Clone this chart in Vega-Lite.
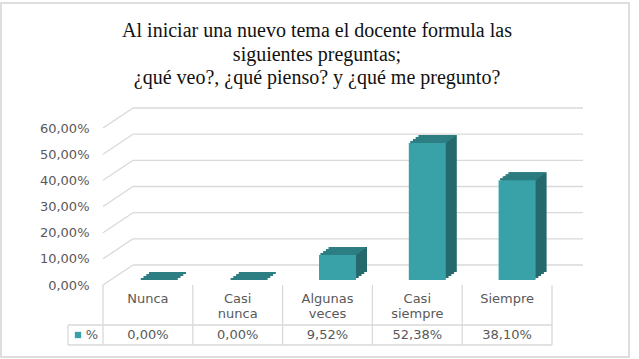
{
  "$schema": "https://vega.github.io/schema/vega-lite/v6.json",
  "width": 628,
  "height": 354,
  "autosize": {"type": "none"},
  "padding": {"left": 1, "top": 3, "right": 10, "bottom": 2},
  "background": "white",
  "config": {
    "view": {"stroke": "#d4d4d4", "strokeWidth": 1.5},
    "locale": {"number": {"decimal": ",", "thousands": ".", "grouping": [3], "currency": ["", " €"]}},
    "font": "DejaVu Sans"
  },
  "title": {
    "text": ["Al iniciar  una nuevo tema el docente formula las", "siguientes preguntas;", "¿qué veo?, ¿qué pienso? y ¿qué me pregunto?"],
    "font": "Liberation Serif",
    "fontSize": 20,
    "fontWeight": "normal",
    "color": "#111111",
    "lineHeight": 23.5,
    "anchor": "middle",
    "frame": "group",
    "offset": -85,
    "dx": 2
  },
  "data": {"values": [
    {"cat": "Nunca", "p": 0},
    {"cat": "Casi nunca", "p": 0},
    {"cat": "Algunas veces", "p": 0.0952},
    {"cat": "Casi siempre", "p": 0.5238},
    {"cat": "Siempre", "p": 0.381}
  ]},
  "resolve": {"scale": {"y": "independent"}},
  "layer": [
    {
      "layer": [
        {
          "data": {"values": [{"g": 0}, {"g": 0.1}, {"g": 0.2}, {"g": 0.3}, {"g": 0.4}, {"g": 0.5}, {"g": 0.6}]},
          "mark": {"type": "rule", "color": "#d9d9d9", "strokeWidth": 1.3, "xOffset": 30, "x2Offset": 31, "yOffset": -20},
          "encoding": {
            "x": {"datum": "Nunca", "type": "nominal", "bandPosition": 0, "scale": {"domain": ["Nunca", "Casi nunca", "Algunas veces", "Casi siempre", "Siempre"], "range": [102, 551], "paddingInner": 0, "paddingOuter": 0}, "axis": null},
            "x2": {"datum": "Siempre", "bandPosition": 1},
            "y": {"field": "g", "type": "quantitative", "scale": {"domain": [0, 0.6], "range": [282, 125], "nice": false}, "axis": {"values": [0, 0.1, 0.2, 0.3, 0.4, 0.5, 0.6], "format": ".2%", "domain": false, "ticks": false, "grid": false, "offset": -88, "labelPadding": 0, "labelFont": "DejaVu Sans", "labelFontSize": 13, "labelColor": "#595959", "title": null}}
          }
        },
        {
          "data": {"values": [{"g": 0}, {"g": 0.1}, {"g": 0.2}, {"g": 0.3}, {"g": 0.4}, {"g": 0.5}, {"g": 0.6}]},
          "mark": {"type": "rule", "color": "#d9d9d9", "strokeWidth": 1.3, "x2Offset": 30, "y2Offset": -20},
          "encoding": {
            "x": {"datum": "Nunca", "type": "nominal", "bandPosition": 0},
            "x2": {"datum": "Nunca", "bandPosition": 0},
            "y": {"field": "g", "type": "quantitative"},
            "y2": {"field": "g"}
          }
        },
        {
          "mark": {"type": "bar", "width": 37, "color": "#25696d", "xOffset": 21, "yOffset": -13, "y2Offset": -13},
          "encoding": {"x": {"field": "cat", "type": "nominal", "sort": null}, "y": {"field": "p", "type": "quantitative"}, "y2": {"datum": 0}}
        },
        {
          "mark": {"type": "bar", "width": 37, "color": "#25696d", "xOffset": 18.25, "yOffset": -11, "y2Offset": -11},
          "encoding": {"x": {"field": "cat", "type": "nominal", "sort": null}, "y": {"field": "p", "type": "quantitative"}, "y2": {"datum": 0}}
        },
        {
          "mark": {"type": "bar", "width": 37, "color": "#25696d", "xOffset": 15.5, "yOffset": -9, "y2Offset": -9},
          "encoding": {"x": {"field": "cat", "type": "nominal", "sort": null}, "y": {"field": "p", "type": "quantitative"}, "y2": {"datum": 0}}
        },
        {
          "mark": {"type": "bar", "width": 37, "color": "#25696d", "xOffset": 12.75, "yOffset": -7, "y2Offset": -7},
          "encoding": {"x": {"field": "cat", "type": "nominal", "sort": null}, "y": {"field": "p", "type": "quantitative"}, "y2": {"datum": 0}}
        },
        {
          "mark": {"type": "bar", "width": 37, "color": "#2d7e83", "xOffset": 19.6, "yOffset": -13, "y2Offset": -11},
          "encoding": {"x": {"field": "cat", "type": "nominal", "sort": null}, "y": {"field": "p", "type": "quantitative"}, "y2": {"field": "p"}}
        },
        {
          "mark": {"type": "bar", "width": 37, "color": "#2d7e83", "xOffset": 16.9, "yOffset": -11, "y2Offset": -9},
          "encoding": {"x": {"field": "cat", "type": "nominal", "sort": null}, "y": {"field": "p", "type": "quantitative"}, "y2": {"field": "p"}}
        },
        {
          "mark": {"type": "bar", "width": 37, "color": "#2d7e83", "xOffset": 14.1, "yOffset": -9, "y2Offset": -7},
          "encoding": {"x": {"field": "cat", "type": "nominal", "sort": null}, "y": {"field": "p", "type": "quantitative"}, "y2": {"field": "p"}}
        },
        {
          "mark": {"type": "bar", "width": 37, "color": "#2d7e83", "xOffset": 11.4, "yOffset": -7, "y2Offset": -5},
          "encoding": {"x": {"field": "cat", "type": "nominal", "sort": null}, "y": {"field": "p", "type": "quantitative"}, "y2": {"field": "p"}}
        },
        {
          "mark": {"type": "bar", "width": 37, "color": "#38a2a8", "xOffset": 10, "yOffset": -5, "y2Offset": -5},
          "encoding": {"x": {"field": "cat", "type": "nominal", "sort": null}, "y": {"field": "p", "type": "quantitative"}, "y2": {"datum": 0}}
        }
      ]
    },
    {
      "layer": [
        {
          "mark": {"type": "rule", "color": "#d9d9d9", "strokeWidth": 1.3},
          "encoding": {
            "x": {"field": "cat", "type": "nominal", "sort": null, "bandPosition": 0},
            "y": {"datum": "h", "type": "nominal", "bandPosition": 0, "scale": {"domain": ["h", "h2", "v"], "range": [282, 342], "paddingInner": 0, "paddingOuter": 0}, "axis": null},
            "y2": {"datum": "v", "bandPosition": 1}
          }
        },
        {
          "data": {"values": [{"lbl": "%"}]},
          "mark": {"type": "rule", "color": "#d9d9d9", "strokeWidth": 1.3},
          "encoding": {
            "x": {"datum": "Siempre", "type": "nominal", "bandPosition": 1},
            "y": {"datum": "h", "type": "nominal", "bandPosition": 0},
            "y2": {"datum": "v", "bandPosition": 1}
          }
        },
        {
          "data": {"values": [{"lbl": "%"}]},
          "mark": {"type": "rule", "color": "#d9d9d9", "strokeWidth": 1.3, "xOffset": -35},
          "encoding": {
            "x": {"datum": "Nunca", "type": "nominal", "bandPosition": 0},
            "x2": {"datum": "Siempre", "bandPosition": 1},
            "y": {"datum": "v", "type": "nominal", "bandPosition": 0}
          }
        },
        {
          "data": {"values": [{"lbl": "%"}]},
          "mark": {"type": "rule", "color": "#d9d9d9", "strokeWidth": 1.3, "xOffset": -35},
          "encoding": {
            "x": {"datum": "Nunca", "type": "nominal", "bandPosition": 0},
            "x2": {"datum": "Siempre", "bandPosition": 1},
            "y": {"datum": "v", "type": "nominal", "bandPosition": 1}
          }
        },
        {
          "data": {"values": [{"lbl": "%"}]},
          "mark": {"type": "rule", "color": "#d9d9d9", "strokeWidth": 1.3, "xOffset": -35},
          "encoding": {
            "x": {"datum": "Nunca", "type": "nominal", "bandPosition": 0},
            "y": {"datum": "v", "type": "nominal", "bandPosition": 0},
            "y2": {"datum": "v", "bandPosition": 1}
          }
        },
        {
          "mark": {"type": "text", "lineBreak": " ", "baseline": "top", "dy": 8, "fontSize": 13, "lineHeight": 15, "color": "#595959", "font": "DejaVu Sans"},
          "encoding": {
            "x": {"field": "cat", "type": "nominal", "sort": null},
            "y": {"datum": "h", "type": "nominal", "bandPosition": 0},
            "text": {"field": "cat"}
          }
        },
        {
          "mark": {"type": "text", "baseline": "middle", "fontSize": 13, "color": "#595959", "font": "DejaVu Sans"},
          "encoding": {
            "x": {"field": "cat", "type": "nominal", "sort": null},
            "y": {"datum": "v", "type": "nominal"},
            "text": {"field": "p", "type": "quantitative", "format": ".2%"}
          }
        },
        {
          "data": {"values": [{"lbl": "%"}]},
          "mark": {"type": "point", "shape": "square", "filled": true, "size": 40, "opacity": 1, "color": "#38a2a8", "xOffset": -25},
          "encoding": {
            "x": {"datum": "Nunca", "type": "nominal", "bandPosition": 0},
            "y": {"datum": "v", "type": "nominal"}
          }
        },
        {
          "data": {"values": [{"lbl": "%"}]},
          "mark": {"type": "text", "baseline": "middle", "align": "center", "fontSize": 13, "color": "#595959", "font": "DejaVu Sans", "xOffset": -11},
          "encoding": {
            "x": {"datum": "Nunca", "type": "nominal", "bandPosition": 0},
            "y": {"datum": "v", "type": "nominal"},
            "text": {"field": "lbl"}
          }
        }
      ]
    }
  ]
}
